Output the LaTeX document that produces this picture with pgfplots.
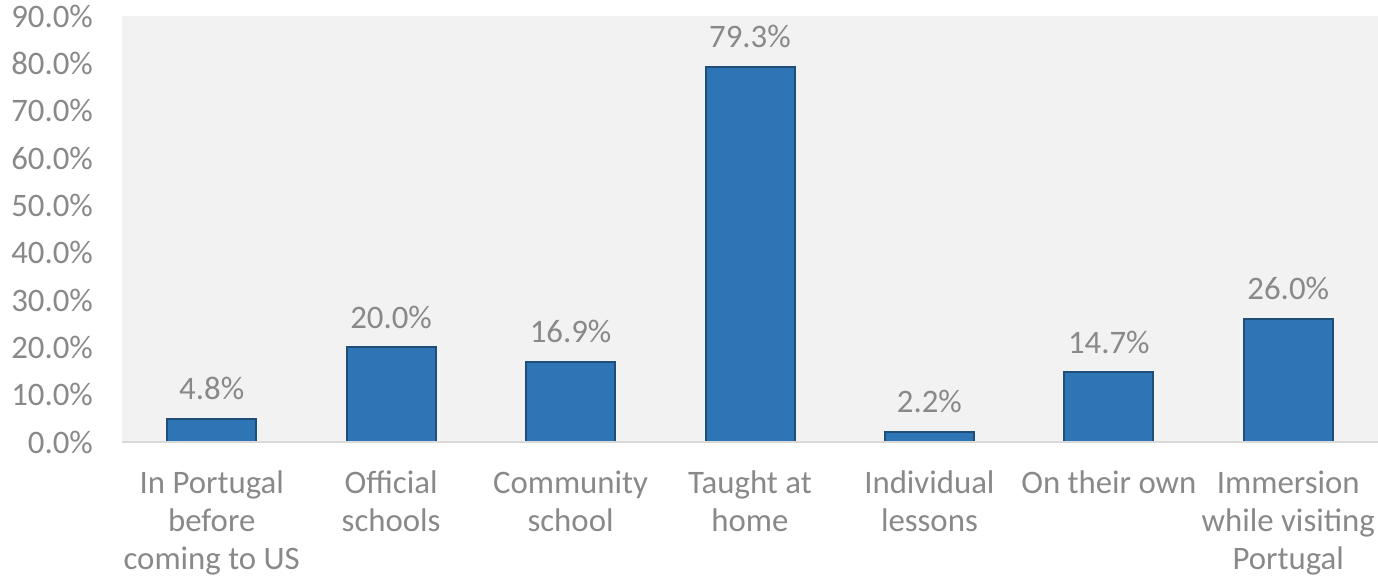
\documentclass[border=0pt]{standalone}
\usepackage{fontspec}
\setmainfont{Carlito}
\usepackage{pgfplots}
\pgfplotsset{compat=1.18}

\definecolor{barblue}{RGB}{46,117,182}
\definecolor{baredge}{RGB}{31,78,121}
\definecolor{txtgray}{RGB}{137,137,137}
\definecolor{bggray}{RGB}{242,242,242}
\definecolor{axgray}{RGB}{217,217,217}

\begin{document}
\begin{tikzpicture}
\begin{axis}[
  scale only axis,
  width=628pt, height=213pt,
  ymin=0, ymax=90,
  xmin=-0.5, xmax=6.5,
  ybar, bar width=44.5pt,
  axis background/.style={fill=bggray},
  axis line style={draw=none},
  axis x line*=bottom,
  axis y line*=left,
  xtick=data,
  xticklabels={{In Portugal\\before\\coming to US},{Official\\schools},{Community\\school},{Taught at\\home},{Individual\\lessons},{On their own},{Immersion\\while visiting\\Portugal}},
  ytick={0,10,...,90},
  major tick length=0pt,
  /pgf/number format/assume math mode=true,
  yticklabel={\pgfmathprintnumber[fixed,fixed zerofill,precision=1]{\tick}\%},
  tick label style={font=\fontsize{16.4}{19}\selectfont, text=txtgray},
  x tick label style={align=center, anchor=north, yshift=-11pt},
  y tick label style={xshift=-11pt},
  nodes near coords={\pgfmathprintnumber[fixed,fixed zerofill,precision=1]{\pgfplotspointmeta}\%},
  nodes near coords style={font=\fontsize{16.4}{19}\selectfont, text=txtgray, anchor=south, inner sep=0pt, yshift=9pt},
  clip=false,
]
\addplot[fill=barblue, draw=baredge, line width=1pt] coordinates {
  (0,4.8) (1,20.0) (2,16.9) (3,79.3) (4,2.2) (5,14.7) (6,26.0)
};
\draw[axgray, line width=1pt] (axis cs:-0.5,0) -- (axis cs:6.5,0);
\end{axis}
\pgfresetboundingbox
\path (-61pt,-69.5pt) rectangle (628pt,221pt);
\end{tikzpicture}
\end{document}
